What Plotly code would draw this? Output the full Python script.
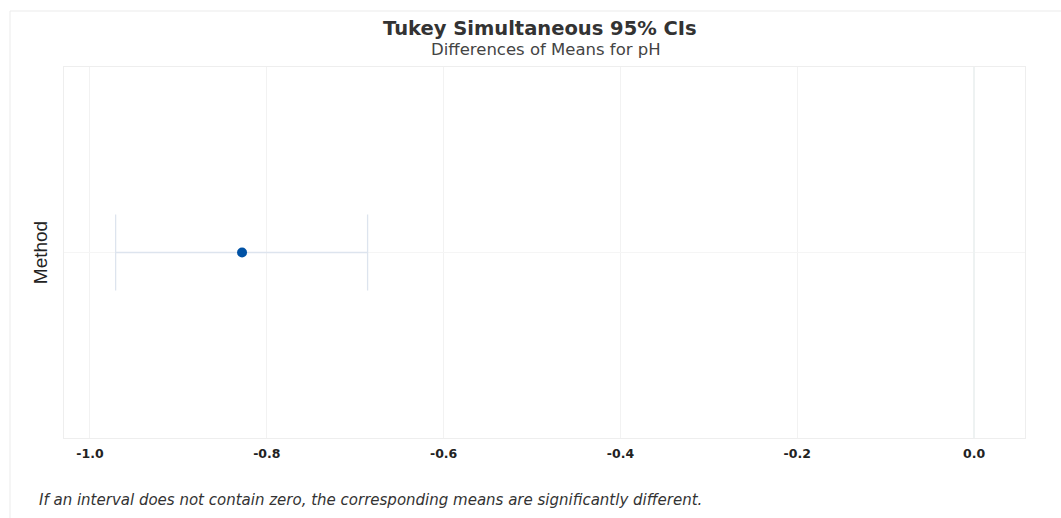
import plotly.graph_objects as go

# Tukey simultaneous confidence interval for the difference of means
factors = ["Method"]
diff_means = [-0.828]
ci_lower = [-0.971]
ci_upper = [-0.686]
x_ticks = [-1.0, -0.8, -0.6, -0.4, -0.2, 0.0]

err_plus = [u - m for u, m in zip(ci_upper, diff_means)]
err_minus = [m - l for m, l in zip(diff_means, ci_lower)]

# plot-area geometry in pixels, used to place the paper-referenced text
PLOT_W, PLOT_H = 961, 371

fig = go.Figure()
fig.add_trace(go.Scatter(
    x=diff_means,
    y=factors,
    mode="markers",
    marker=dict(color="#0052a5", size=10),
    error_x=dict(
        type="data",
        symmetric=False,
        array=err_plus,
        arrayminus=err_minus,
        color="#dde4ee",
        thickness=1.3,
        width=38,
    ),
    showlegend=False,
    hovertemplate="%{x:.3f}<extra></extra>",
))

fig.update_layout(
    width=1061,
    height=518,
    margin=dict(l=64, r=36, t=67, b=80),
    paper_bgcolor="white",
    plot_bgcolor="white",
    font=dict(family="DejaVu Sans", color="#222222"),
    xaxis=dict(
        range=[-1.0294, 0.0576],
        tickvals=x_ticks,
        ticktext=[f"{v:.1f}" for v in x_ticks],
        tickfont=dict(size=12.5, color="#222222", family="DejaVu Sans", weight="bold"),
        showgrid=True,
        gridcolor="#f2f2f2",
        zeroline=True,
        zerolinecolor="#eef2f2",
        zerolinewidth=2,
        showline=True,
        linecolor="#eeeeee",
        mirror=True,
        ticks="",
        ticklabelstandoff=4,
        fixedrange=True,
    ),
    yaxis=dict(
        title=dict(text="Method", font=dict(size=19, family="Liberation Sans", color="#222222"),
                   standoff=10),
        showticklabels=False,
        showgrid=True,
        gridcolor="#f5f5f5",
        showline=True,
        linecolor="#eeeeee",
        mirror=True,
        ticks="",
        fixedrange=True,
    ),
    shapes=[
        dict(type="rect", xref="paper", yref="paper",
             x0=-54 / PLOT_W, x1=1.1, y0=-0.3, y1=1 + 56 / PLOT_H,
             line=dict(color="#ebebeb", width=1), layer="below"),
    ],
    annotations=[
        dict(
            text="<b>Tukey Simultaneous 95% CIs</b>",
            xref="paper", yref="paper",
            x=(540 - 64) / PLOT_W, y=1 + 39 / PLOT_H,
            xanchor="center", yanchor="middle", showarrow=False,
            font=dict(size=19.5, color="#333333", family="DejaVu Sans"),
        ),
        dict(
            text="Differences of Means for pH",
            xref="paper", yref="paper",
            x=(546 - 64) / PLOT_W, y=1 + 17 / PLOT_H,
            xanchor="center", yanchor="middle", showarrow=False,
            font=dict(size=16.5, color="#444444", family="DejaVu Sans"),
        ),
        dict(
            text="<i>If an interval does not contain zero, the corresponding means are significantly different.</i>",
            xref="paper", yref="paper",
            x=-27 / PLOT_W, y=-62 / PLOT_H,
            xanchor="left", yanchor="middle", showarrow=False,
            font=dict(size=15, color="#333333", family="DejaVu Sans"),
        ),
    ],
)

fig.write_html("out.html")
